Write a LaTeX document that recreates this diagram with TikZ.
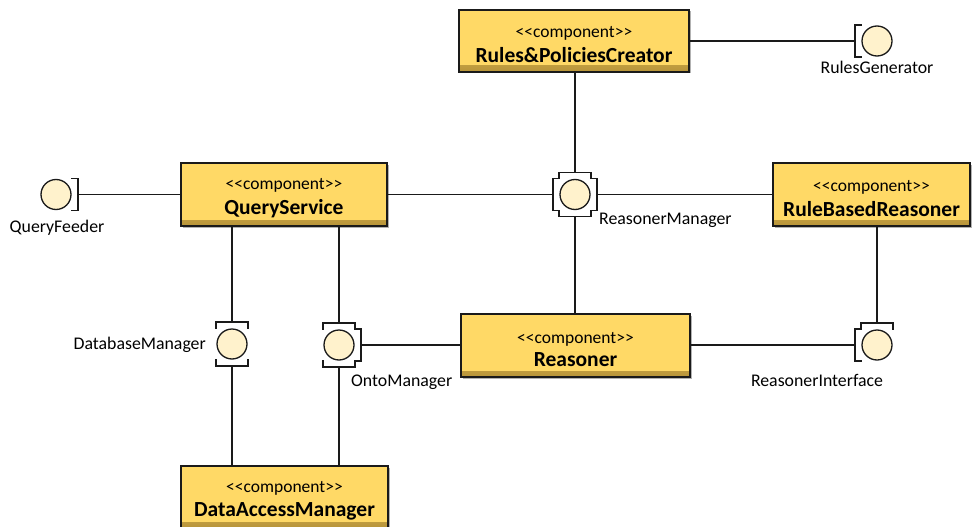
\documentclass[tikz,border=0pt]{standalone}
\usepackage{fontspec}
\setmainfont{Carlito}
\usetikzlibrary{calc,shadows}
\definecolor{compfill}{HTML}{FFD966}
\definecolor{compdark}{HTML}{B8953A}
\definecolor{ballfill}{HTML}{FFF2CC}
\definecolor{edge}{HTML}{1A1A1A}

% interface port brackets, drawn round a frame node (offsets in px, y downwards)
\newcommand\portW[1]{\draw[portline] ($(#1)+(-16,-16)$) -- ++(-6,0) -- ++(0,32) -- ++(6,0);}
\newcommand\portE[1]{\draw[portline] ($(#1)+(16,-16)$) -- ++(6,0) -- ++(0,32) -- ++(-6,0);}
\newcommand\portN[1]{\draw[portline] ($(#1)+(-16,-16)$) -- ++(0,-6) -- ++(32,0) -- ++(0,6);}
\newcommand\portS[1]{\draw[portline] ($(#1)+(-16,16)$) -- ++(0,6) -- ++(32,0) -- ++(0,-6);}
% stereotype line and component name
\newcommand\stereo{{\fontsize{17.5}{19}\selectfont\rule{0pt}{19pt}<\kern0pt<component>\kern0pt>}}
\newcommand\cname[1]{{\fontsize{21.5}{23}\selectfont\bfseries #1}}

\begin{document}
\begin{tikzpicture}[x=1pt,y=-1pt,
  comp/.style={rectangle, draw=edge, line width=1.6pt, fill=compfill,
    align=center, inner sep=0pt,
    drop shadow={shadow xshift=1.5pt, shadow yshift=-1.5pt, opacity=0.3, fill=black},
    path picture={\fill[top color=compfill, bottom color=compdark]
      ([yshift=6pt]path picture bounding box.south west) rectangle
      (path picture bounding box.south east);}},
  pframe/.style={rectangle, minimum size=44pt, inner sep=0pt, draw=none},
  ball/.style={circle, minimum size=30pt, inner sep=0pt, draw=edge, line width=1.3pt, fill=ballfill},
  portline/.style={draw=edge, line width=1.3pt, line cap=rect},
  conn/.style={draw=edge, line width=1.3pt},
  lbl/.style={font=\fontsize{17.8}{19}\selectfont, inner sep=0pt}]
\useasboundingbox (0,0) rectangle (972,527);

% components
\node[comp, minimum width=230pt, minimum height=62pt] (rpc) at (574,41)
  {\stereo\\[6pt]\cname{Rules\&PoliciesCreator}};
\node[comp, minimum width=206pt, minimum height=63pt] (qs) at (284,194.5)
  {\stereo\\[6pt]\cname{QueryService}};
\node[comp, minimum width=197pt, minimum height=63pt] (rbr) at (871.5,194.5)
  {\stereo\\[6pt]\cname{RuleBasedReasoner}};
\node[comp, minimum width=229pt, minimum height=63pt] (rea) at (575.5,345.5)
  {\stereo\\[6pt]\cname{Reasoner}};
\node[comp, minimum width=207pt, minimum height=62pt] (dam) at (284.5,497)
  {\stereo\\[6pt]\cname{DataAccessManager}};

% interface frames
\node[pframe] (rgF)  at (877,41) {};
\node[pframe] (qfF)  at (56,194.5) {};
\node[pframe] (rmF)  at (575,194.5) {};
\node[pframe] (dbmF) at (232,344) {};
\node[pframe] (omF)  at (339,345) {};
\node[pframe] (riF)  at (877,345) {};

% connectors
\draw[conn] (rpc.east) -- (rgF.west);
\draw[conn] (qfF.east) -- (qs.west);
\draw[conn] (qs.east) -- (rmF.west);
\draw[conn] (rmF.east) -- (rbr.west);
\draw[conn] (rmF.north) -- (rmF |- rpc.south);
\draw[conn] (rmF.south) -- (rmF |- rea.north);
\draw[conn] (dbmF.north) -- (dbmF |- qs.south);
\draw[conn] (dbmF.south) -- (dbmF |- dam.north);
\draw[conn] (omF.north) -- (omF |- qs.south);
\draw[conn] (omF.south) -- (omF |- dam.north);
\draw[conn] (omF.east) -- (omF -| rea.west);
\draw[conn] (riF.north) -- (riF |- rbr.south);
\draw[conn] (riF.west) -- (riF -| rea.east);

% port brackets
\portW{rgF}
\portE{qfF}
\portN{rmF}\portS{rmF}\portW{rmF}\portE{rmF}
\portN{dbmF}\portS{dbmF}
\portN{omF}\portS{omF}\portE{omF}
\portN{riF}\portW{riF}

% provided interfaces
\node[ball] (rg)  at (rgF) {};
\node[ball] (qf)  at (qfF) {};
\node[ball] (rm)  at (rmF) {};
\node[ball] (dbm) at (dbmF) {};
\node[ball] (om)  at (omF) {};
\node[ball] (ri)  at (riF) {};

% interface labels
\node[lbl] (rgL)  at (877,67) {RulesGenerator};
\node[lbl] (qfL)  at (57,228) {QueryFeeder};
\node[lbl, anchor=west] (rmL) at (599,220) {ReasonerManager};
\node[lbl, anchor=east] (dbmL) at (206,345) {DatabaseManager};
\node[lbl, anchor=west] (omL) at (351,382) {OntoManager};
\node[lbl] (riL)  at (817,380) {ReasonerInterface};
\end{tikzpicture}
\end{document}
